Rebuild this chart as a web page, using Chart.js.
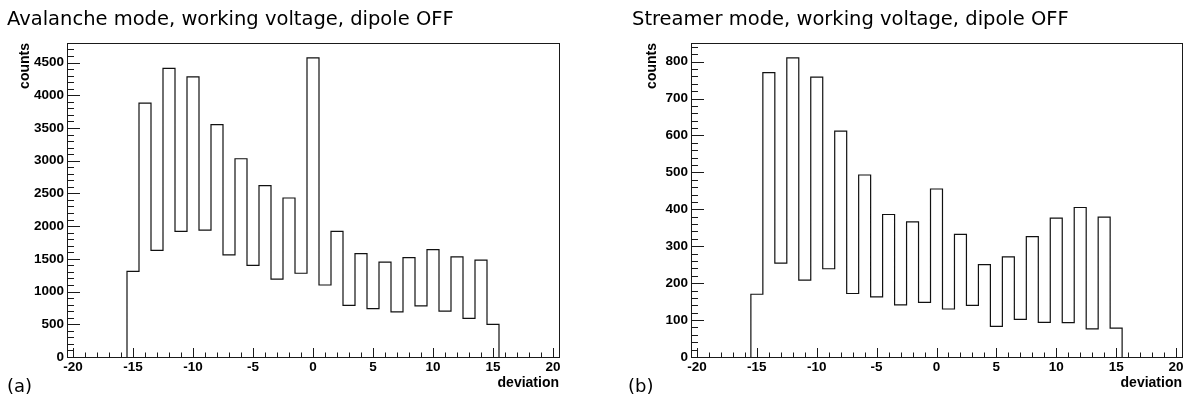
<!DOCTYPE html>
<html>
<head>
<meta charset="utf-8">
<title>Deviation histograms, dipole OFF</title>
<script src="https://cdn.jsdelivr.net/npm/chart.js@4.4.1/dist/chart.umd.min.js"></script>
<style>
    html, body { margin: 0; padding: 0; background: #fff; }
    #page { position: relative; width: 1186px; height: 403px; overflow: hidden; }
    .panel { position: absolute; top: 0; width: 593px; height: 403px; }
    .panel canvas { position: absolute; left: 0; top: 0; }
    .title, .tag {
        position: absolute;
        font-family: "DejaVu Sans", sans-serif;
        color: #000;
        white-space: nowrap;
        line-height: 1;
    }
    .title { font-size: 19.5px; top: 9px; }
    .tag { font-size: 18px; top: 377px; }
</style>
</head>
<body>
<div id="page">
    <div class="panel" style="left:0">
        <canvas id="chartA" width="593" height="403"></canvas>
        <div class="title" style="left:7px">Avalanche mode, working voltage, dipole OFF</div>
        <div class="tag" style="left:7px">(a)</div>
    </div>
    <div class="panel" style="left:593px">
        <canvas id="chartB" width="593" height="403"></canvas>
        <div class="title" style="left:39px">Streamer mode, working voltage, dipole OFF</div>
        <div class="tag" style="left:35px">(b)</div>
    </div>
</div>

<script>
// bin centres (width 1) shared by both histograms
const deviation = [-15, -14, -13, -12, -11, -10, -9, -8, -7, -6, -5, -4, -3, -2, -1, 0,
                   1, 2, 3, 4, 5, 6, 7, 8, 9, 10, 11, 12, 13, 14, 15];

// (a) avalanche mode
const avalancheCounts = [1310, 3880, 1630, 4410, 1920, 4280, 1940, 3550, 1560, 3030, 1400,
                         2620, 1190, 2430, 1280, 4570, 1100, 1920, 790, 1580, 740,
                         1450, 690, 1520, 780, 1640, 700, 1530, 590, 1480, 500];

// (b) streamer mode
const streamerCounts = [170, 770, 254, 810, 208, 758, 239, 612, 172, 493, 163,
                        386, 141, 366, 148, 455, 130, 332, 140, 250, 83,
                        271, 102, 326, 94, 376, 93, 405, 76, 379, 78];

// labelled (major) ticks
const xTickLabels = [-20, -15, -10, -5, 0, 5, 10, 15, 20];
const avalancheYTicks = [0, 500, 1000, 1500, 2000, 2500, 3000, 3500, 4000, 4500];
const streamerYTicks = [0, 100, 200, 300, 400, 500, 600, 700, 800];

const TICK_FONT = { family: '"Liberation Sans", Arial, sans-serif', size: 13.5, weight: 'bold' };
const TITLE_FONT = { family: '"Liberation Sans", Arial, sans-serif', size: 14, weight: 'bold' };

/**
 * Outline of a histogram as a stepped path along the bin edges
 */
function histogramOutline(centres, counts) {
    const half = (centres[1] - centres[0]) / 2;
    const pts = [{ x: centres[0] - half, y: 0 }];
    centres.forEach((c, i) => pts.push({ x: c - half, y: counts[i] }));
    const lastEdge = centres[centres.length - 1] + half;
    pts.push({ x: lastEdge, y: counts[counts.length - 1] });
    pts.push({ x: lastEdge, y: 0 });
    return pts;
}

/**
 * Minor ticks: 5 divisions between labelled ticks, up to the axis max
 */
function minorTicks(major, max) {
    const step = (major[1] - major[0]) / 5;
    const out = [];
    for (let i = 0; major[0] + i * step <= max + 1e-9; i++) out.push({ value: major[0] + i * step });
    return out;
}

// ROOT-style frame with ticks pointing inwards
const rootFramePlugin = {
    id: 'rootFrame',
    afterDatasetsDraw(chart, args, opts) {
        const { ctx, chartArea: a, scales: { x, y } } = chart;
        ctx.save();
        ctx.strokeStyle = '#1a1a1a';
        ctx.lineWidth = 1;
        ctx.beginPath();
        x.ticks.forEach(t => {
            const px = Math.round(x.getPixelForValue(t.value)) + 0.5;
            const len = opts.xMajor.includes(t.value) ? 9 : 4.5;
            ctx.moveTo(px, a.bottom);
            ctx.lineTo(px, a.bottom - len);
        });
        y.ticks.forEach(t => {
            const py = Math.round(y.getPixelForValue(t.value)) + 0.5;
            const len = opts.yMajor.includes(t.value) ? 13 : 7;
            ctx.moveTo(a.left, py);
            ctx.lineTo(a.left + len, py);
        });
        ctx.stroke();
        ctx.strokeRect(Math.round(a.left) + 0.5, Math.round(a.top) + 0.5,
                       Math.round(a.right - a.left), Math.round(a.bottom - a.top));
        ctx.restore();
    }
};

function drawHistogram(canvasId, counts, yTicks, axisWidth, countsPad, rightPad) {
    const ctx = document.getElementById(canvasId).getContext('2d');
    return new Chart(ctx, {
        type: 'scatter',
        data: {
            datasets: [{
                data: histogramOutline(deviation, counts),
                showLine: true,
                stepped: true,
                borderColor: '#111',
                borderWidth: 1.2,
                pointRadius: 0,
                fill: false
            }]
        },
        options: {
            responsive: false,
            animation: false,
            events: [],
            devicePixelRatio: 1,
            layout: { padding: { top: 43, left: 0, right: rightPad, bottom: 0 } },
            plugins: {
                legend: { display: false },
                tooltip: { enabled: false },
                rootFrame: { xMajor: xTickLabels, yMajor: yTicks }
            },
            scales: {
                x: {
                    type: 'linear',
                    min: -20.5,
                    max: 20.5,
                    grid: { display: false, drawTicks: false },
                    border: { display: false },
                    afterBuildTicks: s => { s.ticks = minorTicks(xTickLabels, xTickLabels[xTickLabels.length - 1]); },
                    afterFit: s => { s.height = 46; },
                    ticks: {
                        autoSkip: false, maxRotation: 0, minRotation: 0, padding: 2,
                        color: '#000', font: TICK_FONT,
                        callback: v => xTickLabels.includes(v) ? v : ''
                    },
                    title: {
                        display: true, text: 'deviation', align: 'end', color: '#000',
                        font: TITLE_FONT, padding: { top: 0, bottom: 11.6 }
                    }
                },
                y: {
                    type: 'linear',
                    min: 0,
                    max: Math.max(...counts) * 1.05,
                    grid: { display: false, drawTicks: false },
                    border: { display: false },
                    afterBuildTicks: s => { s.ticks = minorTicks(yTicks, s.max); },
                    afterFit: s => { s.width = axisWidth; },
                    ticks: {
                        autoSkip: false, padding: 3, color: '#000', font: TICK_FONT,
                        callback: v => yTicks.includes(v) ? v : ''
                    },
                    title: {
                        display: true, text: 'counts', align: 'end', color: '#000',
                        font: TITLE_FONT, padding: { top: countsPad, bottom: 0 }
                    }
                }
            }
        },
        plugins: [rootFramePlugin]
    });
}

drawHistogram('chartA', avalancheCounts, avalancheYTicks, 67, 16.6, 34);
drawHistogram('chartB', streamerCounts, streamerYTicks, 98, 51, 4);
</script>
</body>
</html>
